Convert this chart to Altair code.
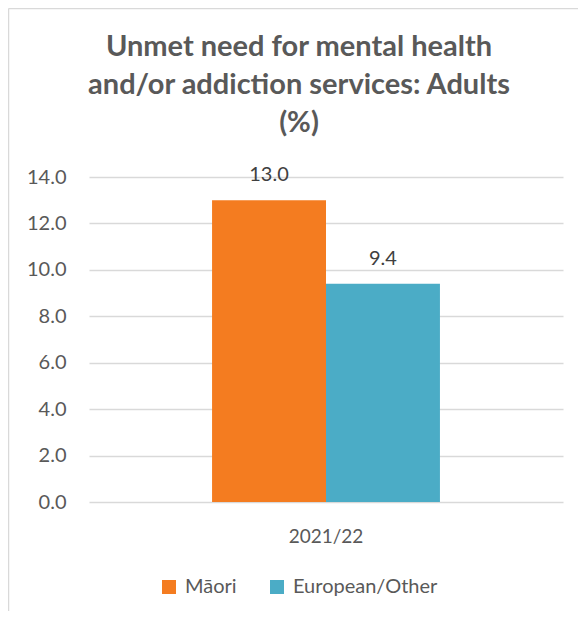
import altair as alt
import pandas as pd

years = ["2021/22"]
groups = ["Māori", "European/Other"]
values = [13.0, 9.4]
colors = ["#F47C20", "#4BACC6"]
y_ticks = [0, 2, 4, 6, 8, 10, 12, 14]
title_lines = ["Unmet need for mental health", "and/or addiction services: Adults", "(%)"]

df = pd.DataFrame({"year": years * len(groups), "group": groups, "value": values})

FONT = "Lato"
TXT = "#595959"

x_enc = alt.X("year:N", title=None,
              scale=alt.Scale(paddingOuter=0.54, paddingInner=0),
              axis=alt.Axis(labelAngle=0, labelFontSize=19, labelColor=TXT, labelFont=FONT,
                            ticks=False, domain=False, labelPadding=25))
xo_enc = alt.XOffset("group:N", sort=groups, scale=alt.Scale(paddingInner=0, paddingOuter=0))
y_enc = alt.Y("value:Q", title=None, scale=alt.Scale(domain=[0, 14]),
              axis=alt.Axis(values=y_ticks, format=".1f", labelFontSize=20, labelColor=TXT,
                            labelFont=FONT, ticks=False, domain=False, labelPadding=23,
                            gridColor="#d9d9d9", gridWidth=1.5))

base = alt.Chart(df)
bars = base.mark_bar().encode(
    x=x_enc, xOffset=xo_enc, y=y_enc,
    color=alt.Color("group:N", sort=groups,
                    scale=alt.Scale(domain=groups, range=colors),
                    legend=alt.Legend(title=None, orient="none", legendX=70, legendY=400,
                                      direction="horizontal", symbolType="square",
                                      symbolSize=196, symbolStrokeWidth=0,
                                      labelFontSize=20, labelColor=TXT, labelFont=FONT,
                                      labelOffset=6, columnPadding=30)),
)
labels = base.mark_text(dy=-25, fontSize=20, color="#404040", font=FONT).encode(
    x=x_enc, xOffset=xo_enc, y=y_enc, text=alt.Text("value:Q", format=".1f"))

title_df = pd.DataFrame({"t": ["\n".join(title_lines)]})
title = alt.Chart(title_df).mark_text(
    font=FONT, fontSize=29, fontWeight="bold", color=TXT, align="center",
    baseline="alphabetic", lineBreak="\n", lineHeight=38).encode(
    x=alt.value(210), y=alt.value(-121), text="t:N")

frame_df = pd.DataFrame({"a": [0]})
left_border = alt.Chart(frame_df).mark_rule(color="#d9d9d9", strokeWidth=1.5).encode(
    x=alt.value(-80.5), y=alt.value(-168.5), y2=alt.value(500))
top_border = alt.Chart(frame_df).mark_rule(color="#d9d9d9", strokeWidth=1.5).encode(
    x=alt.value(-80.5), x2=alt.value(600), y=alt.value(-168.5))

chart = alt.layer(bars, labels, title, left_border, top_border).properties(
    width=474, height=325,
    autosize=alt.AutoSizeParams(type="none"),
    padding={"left": 81, "top": 169, "right": 15, "bottom": 109},
).configure_view(stroke=None)

chart.save("out.html", embed_options={"renderer": "svg", "actions": False})
